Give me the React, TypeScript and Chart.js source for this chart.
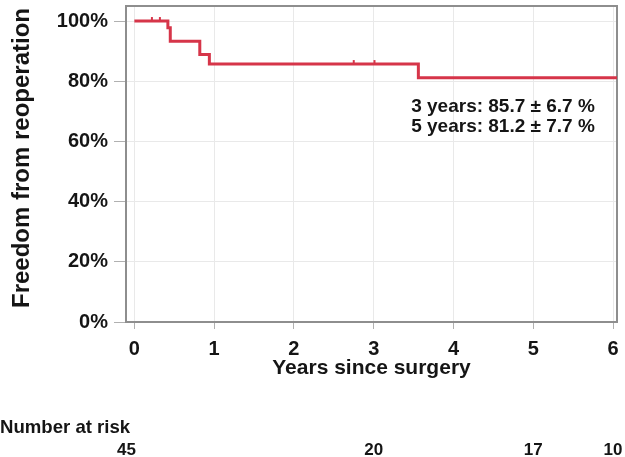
import React, { useEffect, useRef } from "react";
import { Chart, registerables } from "chart.js";

Chart.register(...registerables);

// ---- data ----
const curveTimes = [0, 0.42, 0.45, 0.82, 0.94, 3.56, 6.05];
const curveSurvival = [100, 97.8, 93.3, 88.9, 85.7, 81.2, 81.2];
const censorTimes = [0.22, 0.32, 2.75, 3.01];
const censorSurvival = [100, 100, 85.7, 85.7];
const xTickValues = [0, 1, 2, 3, 4, 5, 6];
const yTickValues = [0, 20, 40, 60, 80, 100];
const riskTimes = [-0.1, 3, 5, 6];
const riskCounts = [45, 20, 17, 10];
const annotationLines = ["3 years: 85.7 \u00b1 6.7 %", "5 years: 81.2 \u00b1 7.7 %"];
const annotationX = 3.47;
const annotationY = [69.9, 63.1];
const yTitle = "Freedom from reoperation";
const xTitle = "Years since surgery";

const FONT = "'Liberation Sans', Arial, sans-serif";
const RED = "#d63549";
const TEXT = "#151515";

const overlayPlugin = {
  id: "overlay",
  beforeDatasetsDraw(chart: any) {
    const { ctx, chartArea } = chart;
    const { left, top, right, bottom } = chartArea;
    ctx.save();
    ctx.strokeStyle = "#8e8e8e";
    ctx.lineWidth = 2;
    ctx.strokeRect(left, top, right - left, bottom - top);
    ctx.restore();
  },
  afterDraw(chart: any) {
    const { ctx } = chart;
    const xs = chart.scales.x;
    const ys = chart.scales.y;
    ctx.save();
    ctx.fillStyle = TEXT;
    // y title
    ctx.save();
    ctx.translate(22, 158);
    ctx.rotate(-Math.PI / 2);
    ctx.font = `bold 24px ${FONT}`;
    ctx.textAlign = "center";
    ctx.textBaseline = "middle";
    ctx.fillText(yTitle, 0, 0);
    ctx.restore();
    // annotation
    ctx.font = `bold 19px ${FONT}`;
    ctx.textAlign = "left";
    ctx.textBaseline = "alphabetic";
    annotationLines.forEach((t, i) => {
      ctx.fillText(t, xs.getPixelForValue(annotationX), ys.getPixelForValue(annotationY[i]));
    });
    // risk table
    ctx.font = `bold 18.6px ${FONT}`;
    ctx.textAlign = "left";
    ctx.textBaseline = "middle";
    ctx.fillText("Number at risk", 0, 428);
    ctx.font = `bold 17px ${FONT}`;
    ctx.textAlign = "center";
    riskTimes.forEach((t, i) => {
      ctx.fillText(String(riskCounts[i]), xs.getPixelForValue(t), 450);
    });
    ctx.restore();
  },
};

export default function App() {
  const ref = useRef<HTMLCanvasElement | null>(null);
  useEffect(() => {
    document.body.style.margin = "0";
    const canvas = ref.current;
    if (!canvas) return;
    const chart = new Chart(canvas, {
      type: "line",
      data: {
        datasets: [
          {
            data: curveTimes.map((t, i) => ({ x: t, y: curveSurvival[i] })),
            borderColor: RED,
            backgroundColor: RED,
            borderWidth: 3,
            pointRadius: 0,
            stepped: "before",
            fill: false,
          },
          {
            data: censorTimes.map((t, i) => ({ x: t, y: censorSurvival[i] })),
            showLine: false,
            pointStyle: "dash",
            rotation: -90,
            pointRadius: 4,
            pointBorderWidth: 2,
            pointBorderColor: RED,
            pointBackgroundColor: RED,
            borderColor: RED,
          },
        ],
      },
      options: {
        animation: false,
        responsive: false,
        maintainAspectRatio: false,
        layout: { padding: { top: 4, right: 8, left: 0, bottom: 0 } },
        plugins: { legend: { display: false }, tooltip: { enabled: false } },
        scales: {
          x: {
            type: "linear",
            min: -0.105,
            max: 6.05,
            afterBuildTicks: (s: any) => {
              s.ticks = xTickValues.map((v) => ({ value: v }));
            },
            afterFit: (s: any) => {
              s.height = 135;
              s.paddingLeft = 0;
              s.paddingRight = 0;
            },
            grid: { color: "#e9e9e9", tickColor: "#b0b0b0", tickLength: 7, lineWidth: 1 },
            border: { display: false },
            ticks: {
              color: TEXT,
              font: { family: FONT, size: 20, weight: "bold" },
              padding: 8,
              maxRotation: 0,
              autoSkip: false,
            },
            title: {
              display: true,
              text: xTitle,
              color: TEXT,
              font: { family: FONT, size: 21, weight: "bold" },
              padding: { top: 0, bottom: 76 },
            },
          },
          y: {
            min: 0,
            max: 105,
            afterBuildTicks: (s: any) => {
              s.ticks = yTickValues.map((v) => ({ value: v }));
            },
            afterFit: (s: any) => {
              s.width = 126;
              s.paddingTop = 0;
              s.paddingBottom = 0;
            },
            grid: { color: "#e9e9e9", tickColor: "#b0b0b0", tickLength: 12, lineWidth: 1 },
            border: { display: false },
            ticks: {
              color: TEXT,
              font: { family: FONT, size: 20, weight: "bold" },
              padding: 6,
              callback: (v: any) => `${v}%`,
            },
            title: { display: false },
          },
        },
      },
      plugins: [overlayPlugin],
    } as any);
    return () => chart.destroy();
  }, []);
  return (
    <div style={{ position: "absolute", left: 0, top: 0, width: 625, height: 457 }}>
      <canvas ref={ref} width={625} height={457} style={{ display: "block", width: 625, height: 457 }} />
    </div>
  );
}
